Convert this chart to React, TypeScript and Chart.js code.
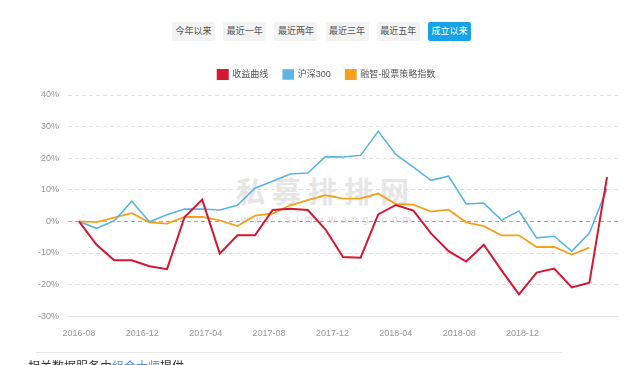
import React, { useEffect, useRef } from 'react';
import { Chart, registerables } from 'chart.js';

Chart.register(...registerables);

const periodButtons = ['今年以来', '最近一年', '最近两年', '最近三年', '最近五年', '成立以来'];
const activeButton = '成立以来';

const seriesNames = ['收益曲线', '沪深300', '融智-股票策略指数'];

// values in %, one per observation
const returnCurve = [
  0, -7.4, -12.3, -12.3, -14.2, -15.1, 1.4, 6.9, -10.2, -4.4, -4.4, 3.6, 4.0, 3.6, -2.5, -11.3,
  -11.5, 2.2, 5.2, 3.4, -3.8, -9.4, -12.7, -7.4, -15.4, -23.1, -16.2, -14.9, -20.9, -19.4, 14.0,
];
const csi300 = [
  0, -2.2, 0.2, 6.4, -0.1, 2.1, 3.9, 3.9, 3.6, 5.1, 10.5, 12.7, 15.0, 15.3, 20.5, 20.4,
  20.9, 28.5, 21.2, 17.2, 13.0, 14.3, 5.5, 5.8, 0.4, 3.3, -5.2, -4.7, -9.4, -3.7, 10.4,
];
const strategyIndex = [
  0, -0.2, 1.2, 2.6, -0.3, -0.7, 1.4, 1.4, 0.3, -1.5, 1.8, 2.5, 5.1, 6.7, 8.3, 7.2,
  7.3, 8.8, 5.5, 5.3, 3.1, 3.7, -0.3, -1.5, -4.4, -4.4, -8.1, -8.1, -10.5, -8.3,
];

const xTickPositions = [0, 3.6, 7.2, 10.8, 14.4, 18, 21.6, 25.2];
const xTickLabels = ['2016-08', '2016-12', '2017-04', '2017-08', '2017-12', '2018-04', '2018-08', '2018-12'];

const yMin = -30;
const yMax = 40;
const yStep = 10;

const seriesColors = ['#d7172f', '#5bb5e4', '#f5a11c'];
const FONT = '"Liberation Sans", "Noto Sans CJK SC", sans-serif';

function toPoints(values: number[]) {
  return values.map((v, i) => ({ x: i, y: v }));
}

export default function App() {
  const canvasRef = useRef<HTMLCanvasElement | null>(null);

  useEffect(() => {
    if (!canvasRef.current) return;
    const chart = new Chart(canvasRef.current, {
      type: 'line',
      data: {
        datasets: [
          {
            label: seriesNames[0],
            data: toPoints(returnCurve),
            borderColor: seriesColors[0],
            backgroundColor: seriesColors[0],
            borderWidth: 2,
            pointRadius: 0,
            tension: 0,
          },
          {
            label: seriesNames[1],
            data: toPoints(csi300),
            borderColor: seriesColors[1],
            backgroundColor: seriesColors[1],
            borderWidth: 1.6,
            pointRadius: 0,
            tension: 0,
          },
          {
            label: seriesNames[2],
            data: toPoints(strategyIndex),
            borderColor: seriesColors[2],
            backgroundColor: seriesColors[2],
            borderWidth: 1.8,
            pointRadius: 0,
            tension: 0,
          },
        ],
      },
      options: {
        responsive: false,
        animation: false,
        layout: { padding: { left: 35, right: 23, top: 50, bottom: 14 } },
        plugins: {
          legend: {
            position: 'top',
            labels: {
              boxWidth: 10,
              boxHeight: 9,
              padding: 15,
              color: '#555',
              font: { size: 9, family: FONT },
            },
          },
          subtitle: {
            display: true,
            text: ' ',
            position: 'top',
            weight: 500,
            padding: 0,
            font: { size: 5, lineHeight: 1.2 },
          },
          tooltip: { enabled: false },
        },
        scales: {
          x: {
            type: 'linear',
            min: -0.625,
            max: 30.625,
            afterBuildTicks: (scale: any) => {
              scale.ticks = xTickPositions.map((v) => ({ value: v }));
            },
            ticks: {
              autoSkip: false,
              maxRotation: 0,
              padding: 12,
              color: '#999',
              font: { size: 9, family: FONT },
              callback: (_v: any, i: number) => xTickLabels[i],
            },
            grid: { display: false, drawTicks: false },
            border: { display: true, color: '#e3e3e3', width: 1 },
          },
          y: {
            min: yMin,
            max: yMax,
            afterFit: (scale: any) => {
              scale.width = 33;
              scale.paddingTop = 95;
            },
            ticks: {
              stepSize: yStep,
              padding: 9,
              color: '#999',
              font: { size: 9, family: FONT },
              callback: (v: any) => `${v}%`,
            },
            grid: {
              drawTicks: false,
              color: (ctx: any) => (ctx.tick && ctx.tick.value === 0 ? '#a8a8a8' : '#e2e2e2'),
              lineWidth: 1,
            },
            border: { display: false, dash: [4, 3] },
          },
        },
      },
    });
    return () => chart.destroy();
  }, []);

  return (
    <div
      style={{
        position: 'absolute',
        left: 0,
        top: 0,
        width: 641,
        height: 365,
        overflow: 'hidden',
        background: '#fff',
        fontFamily: FONT,
      }}
    >
      {periodButtons.map((b, i) => {
        const active = b === activeButton;
        return (
          <div
            key={b}
            style={{
              position: 'absolute',
              left: 172 + i * 51.2,
              top: 22,
              width: 43,
              height: 19,
              lineHeight: '19px',
              textAlign: 'center',
              fontSize: 9,
              borderRadius: 2,
              background: active ? '#17a3e9' : '#f3f3f3',
              color: active ? '#fff' : '#555',
            }}
          >
            {b}
          </div>
        );
      })}
      <div
        style={{
          position: 'absolute',
          left: 236,
          top: 172,
          fontSize: 29,
          fontWeight: 'bold',
          letterSpacing: 7,
          color: '#e6e6e6',
          lineHeight: '36px',
          fontFamily: '"Noto Sans CJK SC", sans-serif',
          whiteSpace: 'nowrap',
        }}
      >
        私募排排网
      </div>
      <div
        style={{
          position: 'absolute',
          left: 241,
          top: 213,
          fontSize: 10,
          letterSpacing: 5.3,
          color: '#d8d8d8',
          lineHeight: '14px',
          whiteSpace: 'nowrap',
        }}
      >
        www.simuwang.com
      </div>
      <canvas
        ref={canvasRef}
        width={641}
        height={365}
        style={{ position: 'absolute', left: 0, top: 0, width: 641, height: 365 }}
      />
      <div
        style={{
          position: 'absolute',
          left: 36,
          top: 352,
          width: 526,
          height: 1,
          background: '#e8e8e8',
        }}
      />
      <div
        style={{
          position: 'absolute',
          left: 28,
          top: 358,
          fontSize: 12,
          lineHeight: '16px',
          color: '#333',
          whiteSpace: 'nowrap',
          fontFamily: '"Noto Sans CJK SC", sans-serif',
        }}
      >
        相关数据服务由<span style={{ color: '#4a90e2' }}>组合大师</span>提供
      </div>
    </div>
  );
}
